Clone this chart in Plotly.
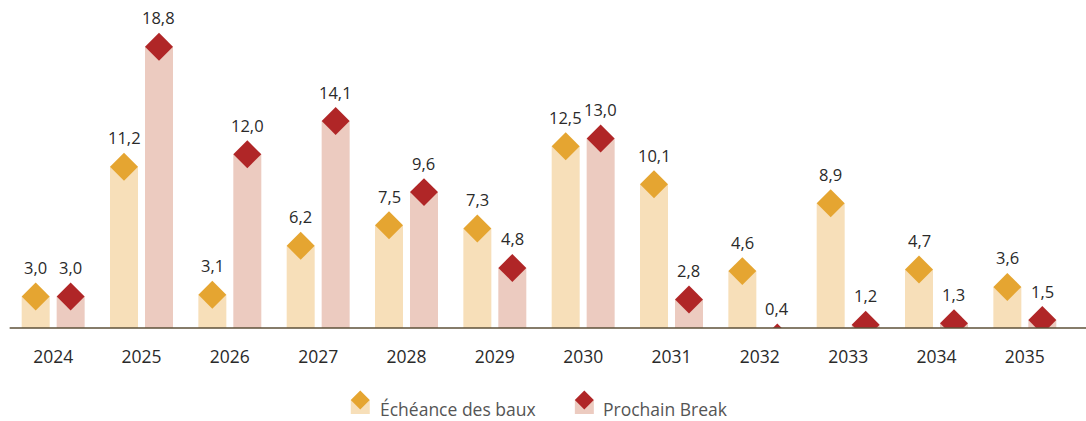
import numpy as np
import plotly.graph_objects as go

years = ["2024", "2025", "2026", "2027", "2028", "2029", "2030", "2031", "2032", "2033", "2034", "2035"]
echeance = [3.0, 11.2, 3.1, 6.2, 7.5, 7.3, 12.5, 10.1, 4.6, 8.9, 4.7, 3.6]
prochain_break = [3.0, 18.8, 12.0, 14.1, 9.6, 4.8, 13.0, 2.8, 0.4, 1.2, 1.3, 1.5]
series_names = ["Échéance des baux", "Prochain Break"]

bar_colors = ["#F7DFB9", "#ECCBC0"]
diamond_colors = ["#E5A531", "#B02627"]

W, H = 1086, 421
L = 9.35
R = W - 1069
T = 10
B = H - 328
plot_w = W - L - R
plot_h = H - T - B
y_min = 1.0
px_per_unit = 15.8
y_max = y_min + plot_h / px_per_unit

idx = np.arange(len(years))
off = 0.198
bw = 0.317
label_off = 29 / px_per_unit

fig = go.Figure()
for k, (vals, name) in enumerate(zip([echeance, prochain_break], series_names)):
    xs = idx + (-off if k == 0 else off)
    fig.add_trace(go.Bar(x=xs, y=vals, width=bw, marker=dict(color=bar_colors[k], line=dict(width=0)),
                         name=name, showlegend=False, hoverinfo="skip"))
    fig.add_trace(go.Scatter(x=xs, y=vals, mode="markers",
                             marker=dict(symbol="diamond", size=21.5, color=diamond_colors[k], line=dict(width=0)),
                             showlegend=False, cliponaxis=True, hoverinfo="skip"))
    for x, v in zip(xs, vals):
        fig.add_annotation(x=x, y=v + label_off, xref="x", yref="y",
                           text=f"{v:.1f}".replace(".", ","), showarrow=False,
                           font=dict(family="Open Sans", size=16.5, color="#2a2a2a"),
                           xanchor="center", yanchor="middle")

# axis baseline extending to the right edge
fig.add_shape(type="line", xref="paper", yref="paper",
              x0=(10 - L) / plot_w, x1=(W - L) / plot_w, y0=0, y1=0,
              line=dict(color="#5E5038", width=1.6), layer="above")

# custom legend (positions in window pixels)
def px2paper(px, py):
    return (px - L) / plot_w, (H - B - py) / plot_h

legend_items = [(360.5, 378, series_names[0], 0), (584.5, 601, series_names[1], 1)]
for cx, tx, name, k in legend_items:
    x0, y0 = px2paper(cx - 9.5, 414)
    x1, y1 = px2paper(cx + 9.5, 400)
    fig.add_shape(type="rect", xref="paper", yref="paper", x0=x0, x1=x1, y0=y0, y1=y1,
                  fillcolor=bar_colors[k], line=dict(width=0))
    ax, ay = px2paper(cx, 400)
    fig.add_shape(type="path", xref="paper", yref="paper", xsizemode="pixel", ysizemode="pixel",
                  xanchor=ax, yanchor=ay, path="M 0,9.5 L 9.5,0 L 0,-9.5 L -9.5,0 Z",
                  fillcolor=diamond_colors[k], line=dict(width=0))
    lx, ly = px2paper(tx, 409)
    fig.add_annotation(x=lx, y=ly, xref="paper", yref="paper", text=name, showarrow=False,
                       xanchor="left", yanchor="middle",
                       font=dict(family="Open Sans", size=17.5, color="#555555"))

fig.update_layout(
    width=W, height=H,
    margin=dict(l=L, r=R, t=T, b=B, pad=0),
    paper_bgcolor="white", plot_bgcolor="white",
    barmode="overlay",
    showlegend=False,
    hovermode=False,
    xaxis=dict(range=[-0.5, len(years) - 0.5], tickvals=idx, ticktext=years,
               showgrid=False, zeroline=False, showline=False, ticks="",
               ticklabelstandoff=16,
               tickfont=dict(family="Open Sans", size=17.5, color="#2a2a2a"), fixedrange=True),
    yaxis=dict(range=[y_min, y_max], visible=False, showgrid=False, zeroline=False, fixedrange=True),
)

fig.write_html("out.html", config={"displayModeBar": False, "staticPlot": True},
               post_script="document.body.style.margin='0px';")
